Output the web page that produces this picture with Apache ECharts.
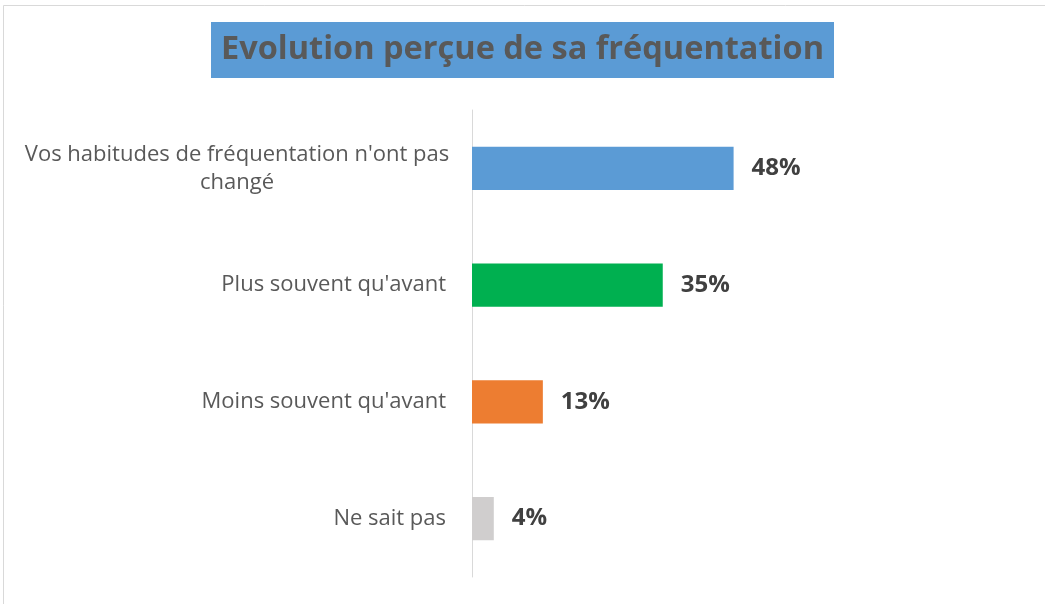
<!DOCTYPE html>
<html><head><meta charset="utf-8">
<script src="https://cdn.jsdelivr.net/npm/echarts@6/dist/echarts.min.js"></script>
<style>html,body{margin:0;padding:0;background:#fff}#c{width:1045px;height:604px}</style>
</head><body><div id="c"></div>
<script>
const titleText = "Evolution perçue de sa fréquentation";
const categories = ["Vos habitudes de fréquentation n'ont pas\nchangé", "Plus souvent qu'avant", "Moins souvent qu'avant", "Ne sait pas"];
const values = [48, 35, 13, 4];
const barColors = ["#5B9BD5", "#00B050", "#ED7D31", "#D0CECE"];

const FONT = 'Open Sans';
const chart = echarts.init(document.getElementById('c'));
chart.setOption({
  animation: false,
  backgroundColor: '#fff',
  graphic: [{type: 'rect', shape: {x: 3.5, y: 5.5, width: 1100, height: 700}, style: {fill: 'none', stroke: '#d9d9d9', lineWidth: 1}, silent: true}],
  title: {
    text: titleText, left: 'center', top: 22,
    backgroundColor: '#5B9BD5',
    padding: [8, 10, 8, 10],
    textStyle: {fontFamily: FONT, fontWeight: 'bold', fontSize: 32.5, color: '#595959', lineHeight: 40}
  },
  grid: {left: 472, right: 28, top: 110, bottom: 27, containLabel: false},
  xAxis: {type: 'value', min: 0, max: 100, show: false},
  yAxis: {
    type: 'category', data: categories, inverse: true,
    axisLine: {show: true, lineStyle: {color: '#d9d9d9', width: 1}},
    axisTick: {show: false},
    axisLabel: {
      margin: 26, color: '#595959', fontFamily: FONT, fontSize: 22, lineHeight: 28,
      formatter: function (v) {
        if (v.indexOf('\n') >= 0) {
          return v.split('\n').map(s => '{c|' + s + '}').join('\n');
        }
        return v;
      },
      rich: {c: {width: 418, align: 'center', color: '#595959', fontFamily: FONT, fontSize: 22, lineHeight: 28}}
    }
  },
  series: [{
    type: 'bar', barWidth: '37%',
    data: values.map((v, i) => ({value: v, itemStyle: {color: barColors[i]}})),
    label: {show: true, position: 'right', distance: 18, formatter: '{c}%', fontFamily: FONT, fontWeight: 'bold', fontSize: 24, color: '#404040'}
  }]
});
</script></body></html>
